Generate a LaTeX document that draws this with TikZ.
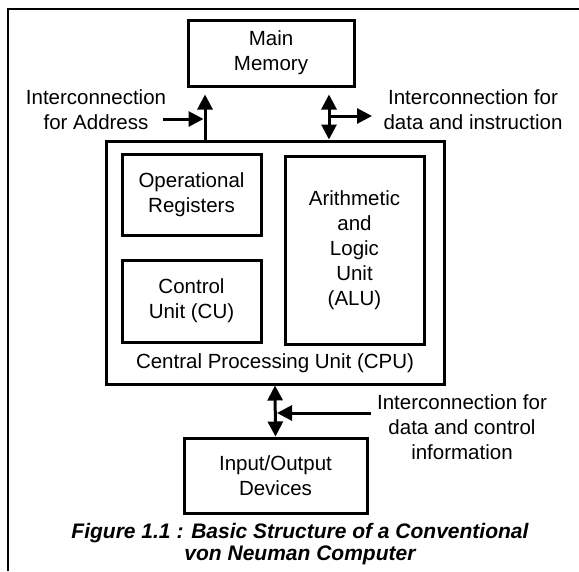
\documentclass[tikz,border=0pt]{standalone}
\usepackage{fontspec}
\setmainfont{Liberation Sans}
\usepackage{tikz}
\usetikzlibrary{arrows.meta,calc}

\begin{document}
\begin{tikzpicture}[x=1pt,y=-1pt,
  box/.style={draw, line width=3pt, align=center, inner sep=0pt},
  arr/.style={line width=3pt, -{Triangle[length=15pt,width=15pt]}},
  darr/.style={line width=3pt, {Triangle[length=15pt,width=15pt]}-{Triangle[length=15pt,width=15pt]}},
  lbl/.style={align=center, inner sep=0pt},
  font=\fontsize{20.5}{25}\selectfont]
\useasboundingbox (0,0) rectangle (579,571);
\draw[line width=2.5pt] (579,9) -- (8,9) -- (8,571);
\node[box, minimum width=166, minimum height=66] (mem) at (271,53) {Main\\Memory};
\node[box, minimum width=338, minimum height=243] (cpu) at (275,262.5) {};
\node[box, minimum width=139, minimum height=81] (reg) at (191.5,194.5) {Operational\\Registers};
\node[box, minimum width=139, minimum height=82] (cu) at (191.5,301) {Control\\Unit (CU)};
\node[box, minimum width=139, minimum height=188] (alu) at (354.5,250) {Arithmetic\\and\\Logic\\Unit\\(ALU)};
\node[lbl] (cpulbl) at (275,363) {Central Processing Unit (CPU)};
\node[box, minimum width=183, minimum height=75] (io) at (275.5,475.5) {Input/Output\\Devices};
\coordinate (addr) at (205,0);
\coordinate (data) at (329,0);
\coordinate (addrin) at (163,119);
\coordinate (dataout) at (372,116);
\coordinate (ioin) at (371,413);
\draw[arr] (cpu.north -| addr) -- ($(mem.south -| addr)+(0,7)$);
\draw[arr, shorten >=1.5pt] (addrin) -- (addrin -| addr);
\draw[darr] (cpu.north -| data) -- ($(mem.south -| data)+(0,7)$);
\draw[arr] (dataout -| data) -- (dataout);
\draw[darr] (cpu.south) -- (io.north);
\draw[arr, shorten >=1.5pt] (ioin) -- (ioin -| io.north);
\node[lbl] (addrlbl) at (96,110) {Interconnection\\for Address};
\node[lbl] (datalbl) at (473,110) {Interconnection for\\data and instruction};
\node[lbl] (iolbl) at (462,427) {Interconnection for\\data and control\\information};
\node[lbl, font=\fontsize{21}{22}\selectfont\bfseries\itshape] (cap) at (300,544) {Figure 1.1 : Basic Structure of a Conventional\\von Neuman Computer};
\end{tikzpicture}
\end{document}
